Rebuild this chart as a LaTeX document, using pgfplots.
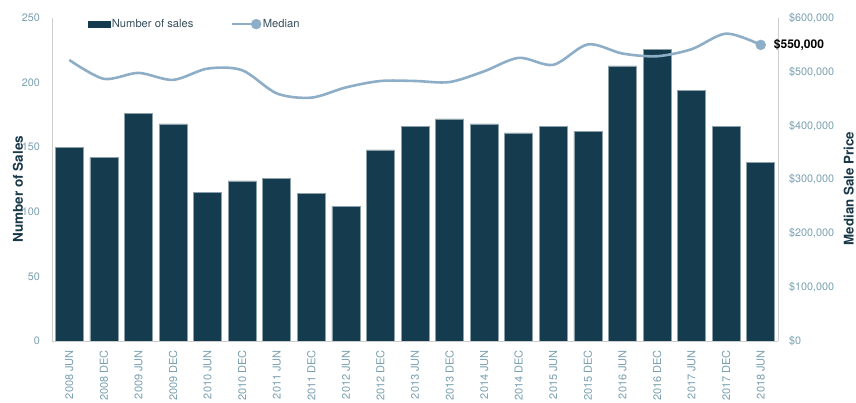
\documentclass[border=0pt]{standalone}
\usepackage{pgfplots}
\pgfplotsset{compat=1.18}
\usepackage{fontspec}
\setmainfont{TeX Gyre Heros}
\definecolor{barcol}{RGB}{21,60,78}
\definecolor{baredge}{RGB}{140,160,170}
\definecolor{linecol}{RGB}{142,174,200}
\definecolor{tickcol}{RGB}{122,160,176}
\definecolor{labcol}{RGB}{24,56,72}
\definecolor{legcol}{RGB}{55,78,92}
\definecolor{axcol}{RGB}{205,205,205}
\begin{document}
\begin{tikzpicture}
\pgfplotsset{
  base/.style={
    scale only axis, width=726pt, height=323pt,
    xmin=-0.5, xmax=20.5, ymin=0,
    enlargelimits=false,
    major tick length=0pt,
    axis line style={axcol, line width=0.8pt},
    /pgf/number format/assume math mode=true,
    scaled y ticks=false,
    tick label style={font=\fontsize{10.8}{13}\selectfont, text=tickcol},
  }
}
\begin{axis}[base,
  ymax=250, ytick={0,50,...,250},
  axis x line*=bottom, axis y line*=left,
  xtick={0,...,20},
  xticklabels={2008 JUN,2008 DEC,2009 JUN,2009 DEC,2010 JUN,2010 DEC,2011 JUN,2011 DEC,2012 JUN,2012 DEC,2013 JUN,2013 DEC,2014 JUN,2014 DEC,2015 JUN,2015 DEC,2016 JUN,2016 DEC,2017 JUN,2017 DEC,2018 JUN},
  xticklabel style={rotate=90, anchor=east, inner sep=0pt, font=\fontsize{11}{13}\selectfont},
  xticklabel shift=9pt,
  yticklabel style={anchor=east, inner sep=0pt},
  yticklabel shift=12pt,
  ylabel={Number of Sales},
  ylabel style={at={(axis description cs:-0.0468,0.47)}, anchor=center, font=\bfseries\fontsize{13.5}{15}\selectfont, text=labcol},
  legend style={draw=none, fill=none, at={(axis description cs:0.045,0.981)}, anchor=west,
    font=\fontsize{11.2}{13}\selectfont, text=legcol,
    /tikz/every even column/.append style={column sep=36pt},
    nodes={inner sep=1.5pt}},
  legend columns=-1,
]
\addplot[ybar, bar width=28pt, fill=barcol, draw=baredge, line width=0.5pt,
  legend image code/.code={\fill[barcol] (0pt,-3pt) rectangle (22pt,3pt);}]
  coordinates {(0,150) (1,142) (2,176) (3,168) (4,115) (5,124) (6,126) (7,114) (8,104) (9,148) (10,166) (11,172) (12,168) (13,161) (14,166) (15,162) (16,213) (17,226) (18,194) (19,166) (20,138)};
\addlegendentry{Number of sales}
\addlegendimage{legend image code/.code={\draw[linecol, line width=2.6pt] (0pt,0pt) -- (24pt,0pt); \fill[linecol] (24pt,0pt) circle (5pt);}}
\addlegendentry{Median}
\end{axis}
\begin{axis}[base,
  clip=false,
  ymax=600000, ytick={0,100000,...,600000},
  yticklabels={{\$0},{\$100,000},{\$200,000},{\$300,000},{\$400,000},{\$500,000},{\$600,000}},
  axis y line*=right, axis x line=none,
  yticklabel style={anchor=west, inner sep=0pt},
  yticklabel shift=11pt,
  ylabel={Median Sale Price},
  ylabel style={at={(axis description cs:1.0975,0.472)}, anchor=center, font=\bfseries\fontsize{13.3}{15}\selectfont, text=labcol},
]
\addplot[smooth, color=linecol, line width=2.6pt]
  coordinates {(0,522000) (1,487000) (2,498000) (3,485000) (4,506000) (5,503000) (6,460000) (7,452000) (8,471000) (9,483000) (10,483000) (11,481000) (12,501000) (13,526000) (14,513000) (15,551000) (16,534000) (17,529000) (18,542000) (19,571000) (20,550000)};
\addplot[only marks, mark=*, mark size=5pt, color=linecol] coordinates {(20,550000)};
\node[anchor=west, inner sep=0pt, xshift=13pt, font=\bfseries\fontsize{12}{14}\selectfont] at (axis cs:20,550000) {\$550,000};
\end{axis}
\pgfresetboundingbox
\path[use as bounding box] (-52pt,-62pt) rectangle (804pt,341pt);
\end{tikzpicture}
\end{document}
